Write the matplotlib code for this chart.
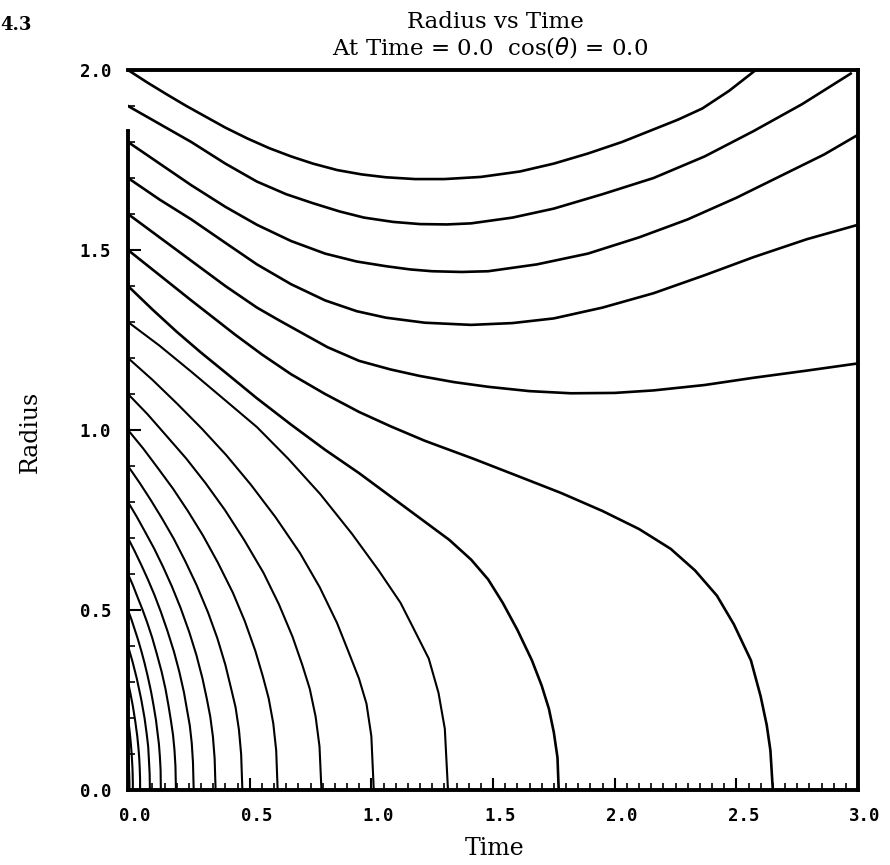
import matplotlib
matplotlib.use("Agg")
import matplotlib.pyplot as plt
import matplotlib.transforms as mtransforms
from matplotlib.ticker import MultipleLocator

# curves, named by starting radius
# (time values, radius values)
t_20 = [0, 0.08, 0.16, 0.24, 0.32, 0.40, 0.49, 0.58, 0.67, 0.76, 0.86, 0.96, 1.06, 1.18,
        1.30, 1.45, 1.61, 1.75, 1.89, 2.03, 2.16, 2.26, 2.36, 2.47, 2.58]
r_20 = [2.0, 1.965, 1.932, 1.90, 1.87, 1.84, 1.81, 1.783, 1.76, 1.74, 1.722, 1.71, 1.702, 1.697,
        1.697, 1.703, 1.718, 1.74, 1.768, 1.80, 1.835, 1.862, 1.893, 1.942, 2.0]

t_19 = [0, 0.13, 0.26, 0.40, 0.53, 0.65, 0.76, 0.87, 0.97, 1.09, 1.20, 1.31, 1.41, 1.58,
        1.75, 1.95, 2.16, 2.37, 2.57, 2.77, 2.97]
r_19 = [1.9, 1.85, 1.80, 1.74, 1.69, 1.655, 1.63, 1.607, 1.59, 1.578, 1.572, 1.571, 1.574, 1.59,
        1.615, 1.655, 1.70, 1.76, 1.83, 1.905, 1.99]

t_18 = [0, 0.13, 0.26, 0.40, 0.53, 0.67, 0.81, 0.94, 1.06, 1.16, 1.25, 1.37, 1.48, 1.68,
        1.89, 2.10, 2.30, 2.50, 2.71, 2.86, 3.0]
r_18 = [1.8, 1.74, 1.68, 1.62, 1.57, 1.525, 1.49, 1.468, 1.455, 1.446, 1.441, 1.439, 1.441, 1.46,
        1.49, 1.535, 1.585, 1.645, 1.715, 1.765, 1.82]

t_17 = [0, 0.13, 0.26, 0.40, 0.53, 0.67, 0.81, 0.94, 1.06, 1.22, 1.41, 1.58, 1.75, 1.95,
        2.16, 2.37, 2.57, 2.79, 3.0]
r_17 = [1.7, 1.64, 1.585, 1.52, 1.46, 1.405, 1.36, 1.33, 1.312, 1.298, 1.292, 1.297, 1.31, 1.34,
        1.38, 1.43, 1.48, 1.53, 1.57]

t_16 = [0, 0.13, 0.26, 0.40, 0.53, 0.62, 0.70, 0.82, 0.95, 1.08, 1.20, 1.34, 1.48, 1.65,
        1.82, 2.0, 2.16, 2.37, 2.57, 2.79, 3.0]
r_16 = [1.6, 1.535, 1.47, 1.40, 1.34, 1.305, 1.275, 1.23, 1.192, 1.168, 1.15, 1.133, 1.12, 1.108,
        1.102, 1.103, 1.11, 1.125, 1.145, 1.165, 1.185]

t_15 = [0, 0.13, 0.26, 0.44, 0.55, 0.67, 0.81, 0.95, 1.08, 1.22, 1.42, 1.61, 1.78, 1.95,
        2.10, 2.23, 2.33, 2.42, 2.49, 2.56, 2.60, 2.625, 2.64, 2.65]
r_15 = [1.5, 1.43, 1.36, 1.265, 1.21, 1.155, 1.10, 1.05, 1.01, 0.97, 0.92, 0.87, 0.825, 0.775,
        0.725, 0.67, 0.61, 0.54, 0.46, 0.36, 0.26, 0.18, 0.11, 0.0]

t_14 = [0, 0.1, 0.2, 0.3, 0.4, 0.53, 0.67, 0.81, 0.95, 1.08, 1.22, 1.32, 1.41, 1.48, 1.54,
        1.60, 1.66, 1.70, 1.73, 1.75, 1.765, 1.77]
r_14 = [1.4, 1.335, 1.273, 1.215, 1.16, 1.088, 1.015, 0.945, 0.88, 0.815, 0.745, 0.695, 0.64,
        0.585, 0.52, 0.445, 0.36, 0.29, 0.225, 0.16, 0.09, 0.0]

t_13 = [0, 0.13, 0.26, 0.39, 0.53, 0.66, 0.79, 0.92, 1.03, 1.12, 1.18, 1.236, 1.276, 1.302, 1.315]
r_13 = [1.3, 1.234, 1.162, 1.088, 1.008, 0.919, 0.822, 0.712, 0.61, 0.52, 0.44, 0.365, 0.27, 0.17, 0.0]

t_12 = [0, 0.101, 0.202, 0.303, 0.404, 0.505, 0.606, 0.707, 0.788, 0.859, 0.909, 0.949, 0.980, 1.0, 1.01]
r_12 = [1.2, 1.139, 1.073, 1.004, 0.93, 0.848, 0.758, 0.658, 0.563, 0.464, 0.379, 0.31, 0.24, 0.15, 0.0]

t_11 = [0, 0.080, 0.159, 0.239, 0.318, 0.398, 0.477, 0.557, 0.620, 0.676, 0.716, 0.747, 0.771, 0.787, 0.795]
r_11 = [1.1, 1.044, 0.983, 0.921, 0.853, 0.778, 0.695, 0.603, 0.516, 0.426, 0.348, 0.281, 0.204, 0.121, 0.0]

t_10 = [0, 0.062, 0.123, 0.185, 0.246, 0.308, 0.369, 0.431, 0.480, 0.523, 0.554, 0.578, 0.597, 0.609, 0.615]
r_10 = [1.0, 0.949, 0.894, 0.837, 0.775, 0.707, 0.632, 0.548, 0.469, 0.387, 0.316, 0.255, 0.185, 0.11, 0.0]

t_09 = [0, 0.047, 0.094, 0.141, 0.188, 0.235, 0.282, 0.329, 0.367, 0.400, 0.423, 0.442, 0.456, 0.465, 0.47]
r_09 = [0.9, 0.854, 0.805, 0.753, 0.698, 0.636, 0.569, 0.493, 0.422, 0.348, 0.284, 0.230, 0.167, 0.099, 0.0]

t_08 = [0, 0.036, 0.072, 0.108, 0.144, 0.18, 0.216, 0.252, 0.281, 0.306, 0.324, 0.338, 0.349, 0.356, 0.36]
r_08 = [0.8, 0.759, 0.715, 0.670, 0.62, 0.566, 0.506, 0.438, 0.375, 0.310, 0.253, 0.204, 0.148, 0.088, 0.0]

t_07 = [0, 0.027, 0.054, 0.081, 0.108, 0.135, 0.162, 0.189, 0.211, 0.230, 0.243, 0.254, 0.262, 0.267, 0.27]
r_07 = [0.7, 0.664, 0.626, 0.586, 0.543, 0.495, 0.442, 0.384, 0.328, 0.271, 0.221, 0.179, 0.130, 0.077, 0.0]

t_06 = [0, 0.020, 0.039, 0.059, 0.079, 0.099, 0.118, 0.138, 0.154, 0.167, 0.177, 0.185, 0.191, 0.195, 0.197]
r_06 = [0.6, 0.569, 0.536, 0.502, 0.465, 0.424, 0.379, 0.329, 0.281, 0.232, 0.190, 0.153, 0.111, 0.066, 0.0]

t_05 = [0, 0.0135, 0.027, 0.0405, 0.054, 0.0675, 0.081, 0.0945, 0.105, 0.115, 0.1215, 0.127, 0.131, 0.134, 0.135]
r_05 = [0.5, 0.475, 0.447, 0.419, 0.388, 0.354, 0.316, 0.274, 0.235, 0.194, 0.158, 0.128, 0.093, 0.055, 0.0]

t_04 = [0, 0.018, 0.036, 0.054, 0.068, 0.077, 0.083, 0.086, 0.089, 0.09]
r_04 = [0.4, 0.358, 0.31, 0.253, 0.2, 0.155, 0.12, 0.084, 0.044, 0.0]

t_03 = [0, 0.01, 0.02, 0.03, 0.038, 0.043, 0.046, 0.048, 0.0495, 0.05]
r_03 = [0.3, 0.268, 0.233, 0.19, 0.15, 0.116, 0.09, 0.063, 0.033, 0.0]

t_02 = [0, 0.004, 0.008, 0.012, 0.015, 0.017, 0.0184, 0.0192, 0.0198, 0.02]
r_02 = [0.2, 0.179, 0.155, 0.126, 0.1, 0.077, 0.06, 0.042, 0.022, 0.0]

t_01 = [0, 0.0012, 0.0024, 0.0036, 0.0045, 0.0051, 0.0055, 0.0058, 0.006]
r_01 = [0.1, 0.089, 0.078, 0.063, 0.05, 0.039, 0.03, 0.02, 0.0]

upper = [(t_20, r_20), (t_19, r_19), (t_18, r_18), (t_17, r_17), (t_16, r_16),
         (t_15, r_15), (t_14, r_14)]
lower = [(t_13, r_13), (t_12, r_12), (t_11, r_11), (t_10, r_10), (t_09, r_09),
         (t_08, r_08), (t_07, r_07), (t_06, r_06), (t_05, r_05), (t_04, r_04),
         (t_03, r_03), (t_02, r_02), (t_01, r_01)]

x_ticks = [0.0, 0.5, 1.0, 1.5, 2.0, 2.5, 3.0]
y_ticks = [0.0, 0.5, 1.0, 1.5, 2.0]

fig = plt.figure(figsize=(8.9, 8.65), dpi=100)
ax = fig.add_axes([128 / 890, 1 - 790 / 865, 730 / 890, 720 / 865])

for t, r in upper:
    ax.plot(t, r, color="black", lw=1.9, solid_joinstyle="round")
for t, r in lower:
    ax.plot(t, r, color="black", lw=1.5, solid_joinstyle="round")

ax.set_xlim(0, 3.0)
ax.set_ylim(0, 2.0)
ax.set_xticks(x_ticks)
ax.set_yticks(y_ticks)
ax.set_xticklabels(["%.1f" % v for v in x_ticks])
ax.set_yticklabels(["%.1f" % v for v in y_ticks])
ax.xaxis.set_minor_locator(MultipleLocator(0.05))
ax.yaxis.set_minor_locator(MultipleLocator(0.1))
ax.tick_params(which="major", direction="in", length=9, width=1.5,
               top=False, right=False, labelsize=12.5, pad=12)
ax.tick_params(which="minor", direction="in", length=5, width=1.2,
               top=False, right=False)
shift = mtransforms.ScaledTranslation(7 / 100, 0, fig.dpi_scale_trans)
for lab in ax.get_xticklabels():
    lab.set_family("DejaVu Sans Mono")
    lab.set_weight("bold")
    lab.set_transform(lab.get_transform() + shift)
for lab in ax.get_yticklabels():
    lab.set_family("DejaVu Sans Mono")
    lab.set_weight("bold")

for s in ax.spines.values():
    s.set_linewidth(2.8)
ax.spines["left"].set_bounds(0, 1.83)

serif = "DejaVu Serif"
fig.text(495 / 890, 1 - 28 / 865, "Radius vs Time", ha="center", va="baseline",
         family=serif, fontsize=16.5)
fig.text(490 / 890, 1 - 55 / 865, r"At Time = 0.0  cos($\theta$) = 0.0",
         ha="center", va="baseline", family=serif, fontsize=16.5)
fig.text(495 / 890, 1 - 855 / 865, "Time", ha="center", va="baseline",
         family=serif, fontsize=17)
fig.text(30 / 890, 1 - 432 / 865, "Radius", ha="center", va="center",
         rotation=90, family=serif, fontsize=17)
fig.text(0.0, 1 - 30 / 865, "4.3", ha="left", va="baseline", family=serif,
         fontsize=13, weight="bold")

fig.savefig("out.png", dpi=100)
